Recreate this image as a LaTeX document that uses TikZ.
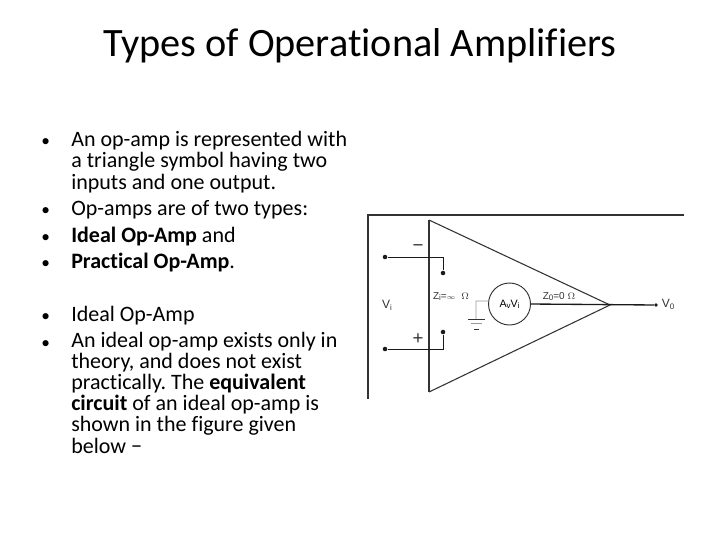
\documentclass[tikz,border=0pt]{standalone}
\usepackage{fontspec}
\setmainfont{Carlito}[Ligatures=NoCommon]
\newfontfamily\diagfont{Liberation Sans}
\usepackage{xcolor}
\usetikzlibrary{positioning}
\definecolor{col1}{HTML}{1A1A1A}
\definecolor{col2}{HTML}{333333}
\definecolor{col3}{HTML}{999999}
\newcommand{\bodytext}{\fontsize{16.5}{15.8}\selectfont\lineskiplimit=-20pt\relax\frenchspacing}
\newcommand{\dottext}{\fontsize{13}{15.8}\selectfont}
\begin{document}
\begin{tikzpicture}[
  x=0.75pt, y=-0.75pt,
  title/.style={inner sep=0pt, font=\fontsize{30.2}{32}\selectfont, text=black},
  para/.style={inner sep=0pt, align=left, anchor=base west, font=\bodytext, text=black},
  listdot/.style={inner sep=0pt, anchor=base west, font=\dottext, text=black},
  pin/.style={circle, fill=col1, inner sep=0pt, minimum size=3.4pt},
  wire/.style={col1, line width=0.7pt},
  sym/.style={inner sep=0pt, font=\diagfont\fontsize{7.5}{8}\selectfont, text=col2}
]
  \useasboundingbox (0,0) rectangle (720,540);
  \fill[white] (0,0) rectangle (720,540);

  \node[title] (heading) at (360,46) {Types of Operational Amplifiers};

  % bullet text on the left
  \node[listdot] (b1) at (41,146) {•};
  \node[para] (t1) at (71,189) {An op-amp is represented with\\a triangle symbol having two\\inputs and one output.};
  \node[listdot] (b2) at (41,215) {•};
  \node[para] (t2) at (71,215) {Op-amps are of two types:};
  \node[listdot] (b3) at (41,242) {•};
  \node[para] (t3) at (71,242) {\textbf{Ideal Op-Amp} and};
  \node[listdot] (b4) at (41,268) {•};
  \node[para] (t4) at (71,268) {\textbf{Practical Op-Amp}.};
  \node[listdot] (b5) at (41,321) {•};
  \node[para] (t5) at (71,321) {Ideal Op-Amp};
  \node[listdot] (b6) at (41,348) {•};
  \node[para] (t6) at (71,453) {An ideal op-amp exists only in\\theory, and does not exist\\practically. The \textbf{equivalent}\\\textbf{circuit} of an ideal op-amp is\\shown in the figure given\\below −};

  % frame of the figure
  \coordinate (frametop) at (684,215);
  \coordinate (framecorner) at (368,215);
  \coordinate (framebot) at (368,399);
  \draw[col2, line width=0.8pt] (frametop) -- (framecorner) -- (framebot);

  % amplifier
  \coordinate (apextop) at (429,220);
  \coordinate (apexbot) at (429,392);
  \coordinate (apexout) at (610,305);
  \draw[col2, line width=0.8pt] (apextop) -- (apexout) -- (apexbot);
  \draw[col2, line width=1.5pt] (apextop) -- (apexbot);

  \node[pin] (inm) at (385,257) {};
  \node[pin] (inp) at (385,349) {};
  \node[pin] (zm) at (443,273) {};
  \node[pin] (zp) at (443,332) {};
  \draw[wire] (inm) -- (443,257) -- (zm);
  \draw[wire] (inp) -- (443,349) -- (zp);

  \node[circle, draw=col2, line width=0.7pt, minimum size=31.5pt, inner sep=0pt] (gain) at (509.5,304)
    {\diagfont\fontsize{8}{9}\selectfont A\raisebox{-1pt}{\fontsize{6}{7}\selectfont v}V\raisebox{-1pt}{\fontsize{6}{7}\selectfont i}};
  \node[pin, minimum size=2.8pt] (outp) at (656,305) {};
  \draw[col1, line width=1pt] (gain.east) -- (outp);

  % ground
  \coordinate (gnd) at (476,319);
  \coordinate (gndwire) at (476,301);
  \draw[col3, line width=0.6pt] (gain.172) -- (gndwire) -- (gnd);
  \draw[col2, line width=0.7pt] (468,319) -- (485,319);
  \draw[col3, line width=0.8pt] (471,323.5) -- (482,323.5);
  \draw[col2, line width=0.6pt] (474,329) -- (479,329);

  \node[sym, font=\diagfont\fontsize{9}{10}\selectfont] (vi) at (387,305) {V\raisebox{-1.5pt}{\fontsize{6}{7}\selectfont i}};
  \node[sym, font=\diagfont\fontsize{9}{10}\selectfont] (vo) at (668,304) {V\raisebox{-1.5pt}{\fontsize{6}{7}\selectfont 0}};
  \node[sym] (zi) at (451,296.5) {Z\raisebox{-1pt}{\fontsize{6}{7}\selectfont i}=$\scriptstyle\infty$\ \ $\Omega$};
  \node[sym] (zo) at (559,296.5) {Z\raisebox{-1pt}{\fontsize{6}{7}\selectfont 0}=0 $\Omega$};
  \node[sym, font=\diagfont\fontsize{14}{15}\selectfont] (minus) at (418,248) {−};
  \node[sym, font=\diagfont\fontsize{14}{15}\selectfont] (plus) at (418,339) {+};
\end{tikzpicture}
\end{document}
